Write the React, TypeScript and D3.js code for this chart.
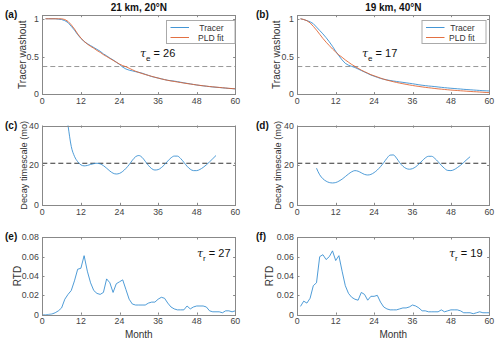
import React, { useEffect, useRef } from 'react';
import * as d3 from 'd3';

// months 1..60 for washout curves
const washMonths = d3.range(1, 61);
const washTracerA = [1.0, 1.0, 1.0, 1.0, 0.995, 0.99, 0.975, 0.95, 0.9, 0.85, 0.79, 0.74, 0.7, 0.67, 0.645, 0.62, 0.595, 0.57, 0.535, 0.51,
  0.48, 0.455, 0.425, 0.395, 0.36, 0.335, 0.32, 0.31, 0.3, 0.29, 0.28, 0.265, 0.25, 0.235, 0.225, 0.215, 0.205, 0.195, 0.185, 0.18,
  0.175, 0.168, 0.16, 0.152, 0.145, 0.138, 0.13, 0.123, 0.117, 0.112, 0.107, 0.102, 0.097, 0.093, 0.09, 0.086, 0.082, 0.078, 0.075, 0.072];
const washFitA = [1.0, 1.0, 1.0, 1.0, 1.0, 1.0, 0.99, 0.965, 0.92, 0.865, 0.8, 0.745, 0.7, 0.665, 0.635, 0.61, 0.58, 0.555, 0.525, 0.5,
  0.475, 0.45, 0.425, 0.4, 0.38, 0.365, 0.345, 0.325, 0.305, 0.29, 0.275, 0.262, 0.25, 0.238, 0.226, 0.215, 0.204, 0.194, 0.185, 0.177,
  0.17, 0.163, 0.156, 0.149, 0.142, 0.136, 0.13, 0.124, 0.118, 0.113, 0.108, 0.103, 0.099, 0.095, 0.091, 0.087, 0.083, 0.079, 0.076, 0.072];
const washTracerB = [1.0, 0.99, 0.975, 0.96, 0.935, 0.89, 0.845, 0.8, 0.75, 0.695, 0.635, 0.57, 0.51, 0.455, 0.41, 0.385, 0.37, 0.355, 0.335, 0.315,
  0.295, 0.275, 0.255, 0.24, 0.225, 0.21, 0.2, 0.19, 0.183, 0.176, 0.17, 0.164, 0.158, 0.152, 0.146, 0.14, 0.133, 0.126, 0.12, 0.115,
  0.11, 0.106, 0.102, 0.097, 0.092, 0.088, 0.084, 0.08, 0.077, 0.073, 0.07, 0.066, 0.063, 0.06, 0.057, 0.054, 0.051, 0.048, 0.046, 0.044];
const washFitB = [1.0, 0.99, 0.975, 0.945, 0.9, 0.85, 0.795, 0.74, 0.69, 0.645, 0.6, 0.56, 0.52, 0.49, 0.455, 0.425, 0.395, 0.37, 0.345, 0.32,
  0.3, 0.28, 0.26, 0.245, 0.23, 0.215, 0.2, 0.188, 0.177, 0.167, 0.157, 0.148, 0.14, 0.132, 0.124, 0.117, 0.11, 0.104, 0.098, 0.092,
  0.087, 0.082, 0.077, 0.072, 0.068, 0.064, 0.06, 0.056, 0.053, 0.05, 0.047, 0.044, 0.041, 0.038, 0.035, 0.033, 0.03, 0.027, 0.024, 0.022];

// decay timescale (mo)
const decayMonthsC = d3.range(7, 55);
const decayC = [52, 40, 29.5, 24.5, 21.8, 20.2, 19.7, 19.9, 20.4, 20.8, 21, 20.7, 19.8, 18.5, 17.1, 16, 15.6, 15.9, 16.9, 18.4,
  20.3, 22.5, 24.3, 24.9, 24, 22, 19.9, 18.3, 17.6, 17.8, 18.8, 20.3, 22.1, 23.7, 24.6, 24.6, 23.4, 21.5, 19.5, 18,
  17.3, 17.3, 17.9, 18.9, 20.2, 21.7, 23.3, 24.9];
const decayMonthsD = d3.range(6, 55);
const decayD = [18.5, 15.2, 13.2, 12, 11.3, 11.1, 11.3, 12, 13, 14.3, 15.6, 16.7, 17.3, 17, 16.2, 15.4, 15.1, 15.4, 16.3, 17.6,
  19.3, 21.3, 23.5, 25.1, 25.2, 23.6, 21.3, 19.5, 18.4, 18, 18.3, 19.2, 20.6, 22.2, 23.7, 24.5, 24.5, 23.4, 21.8, 20,
  18.4, 17.4, 17.3, 17.8, 18.8, 20, 21.4, 22.9, 24.3];

// residence time distribution
const rtdMonthsE = d3.range(0, 61);
const rtdE = [0, 0, 0.0003, 0.0007, 0.002, 0.004, 0.007, 0.016, 0.021, 0.025, 0.035, 0.047, 0.048, 0.061, 0.045, 0.033, 0.025, 0.022, 0.021, 0.023,
  0.037, 0.033, 0.023, 0.032, 0.034, 0.036, 0.026, 0.016, 0.011, 0.01, 0.01, 0.01, 0.01, 0.012, 0.013, 0.013, 0.016, 0.018, 0.017, 0.012,
  0.008, 0.006, 0.005, 0.005, 0.005, 0.009, 0.006, 0.008, 0.009, 0.009, 0.009, 0.008, 0.004, 0.003, 0.003, 0.003, 0.002, 0.004, 0.004, 0.003, 0.004];
const rtdMonthsF = d3.range(1, 61);
const rtdF = [0.0086, 0.014, 0.012, 0.017, 0.03, 0.033, 0.06, 0.062, 0.057, 0.06, 0.066, 0.056, 0.061, 0.045, 0.03, 0.022, 0.018, 0.016, 0.015, 0.023,
  0.021, 0.015, 0.019, 0.019, 0.02, 0.013, 0.008, 0.006, 0.005, 0.005, 0.005, 0.006, 0.007, 0.007, 0.008, 0.01, 0.009, 0.007, 0.004, 0.004,
  0.003, 0.003, 0.003, 0.003, 0.005, 0.003, 0.004, 0.005, 0.005, 0.005, 0.004, 0.002, 0.002, 0.002, 0.001, 0.002, 0.003, 0.002, 0.002, 0.002];

const xTicks = [0, 12, 24, 36, 48, 60];
const washTicks = [0, 0.5, 1];
const decayTicks = [0, 20, 40];
const rtdTicks = [0, 0.02, 0.04, 0.06, 0.08];
const titles = ['21 km, 20°N', '19 km, 40°N'];
const legendNames = ['Tracer', 'PLD fit'];
const tauE = [26, 17];
const tauR = [27, 19];
const decayRef = 21;

const BLUE = '#2f8ad0';
const RED = '#e0602c';
const FONT = '"Liberation Sans", Arial, Helvetica, sans-serif';

export default function App() {
  const ref = useRef(null);

  useEffect(() => {
    const svg = d3.select(ref.current);
    svg.selectAll('*').remove();
    const cols = [{ x0: 42.3, x1: 235.3 }, { x0: 297.3, x1: 489.3 }];
    const rows = [{ y0: 15, y1: 94.3 }, { y0: 125.5, y1: 205 }, { y0: 237.3, y1: 314.7 }];
    // baseline x of the rotated y labels, and their size per row
    const ylabX = [[26, 280], [26.5, 280.5], [20.5, 272.5]];
    const ylabSize = [10, 9.2, 10];
    let clipId = 0;

    function panel(c, r, opt) {
      const { x0, x1 } = cols[c];
      const { y0, y1 } = rows[r];
      const x = d3.scaleLinear().domain([0, 60]).range([x0, x1]);
      const y = d3.scaleLinear().domain(opt.yDomain).range([y1, y0]);
      const g = svg.append('g');
      const id = 'clip' + (clipId++);
      g.append('clipPath').attr('id', id).append('rect')
        .attr('x', x0).attr('y', y0).attr('width', x1 - x0).attr('height', y1 - y0);

      // ticks (inward, mirrored)
      const tk = 2.2;
      xTicks.forEach(t => {
        const px = Math.round(x(t)) + 0.5;
        g.append('line').attr('x1', px).attr('x2', px).attr('y1', y1).attr('y2', y1 - tk).attr('stroke', '#888');
        g.append('line').attr('x1', px).attr('x2', px).attr('y1', y0).attr('y2', y0 + tk).attr('stroke', '#888');
        g.append('text').attr('x', x(t)).attr('y', y1 + 9.5).attr('text-anchor', 'middle')
          .attr('font-size', 8.8).attr('fill', '#444').text(t);
      });
      opt.yTicks.forEach(t => {
        const py = Math.round(y(t)) + 0.5;
        g.append('line').attr('x1', x0).attr('x2', x0 + tk).attr('y1', py).attr('y2', py).attr('stroke', '#888');
        g.append('line').attr('x1', x1).attr('x2', x1 - tk).attr('y1', py).attr('y2', py).attr('stroke', '#888');
        g.append('text').attr('x', x0 - 3.5).attr('y', y(t) + 3).attr('text-anchor', 'end')
          .attr('font-size', 8.8).attr('fill', '#444').text(opt.fmt(t));
      });

      if (opt.ref != null) {
        g.append('line').attr('x1', x0).attr('x2', x1).attr('y1', y(opt.ref)).attr('y2', y(opt.ref))
          .attr('stroke', opt.refColor).attr('stroke-width', 1).attr('stroke-dasharray', '5,3');
      }

      const line = d3.line().x(d => x(d[0])).y(d => y(d[1]));
      if (opt.smooth) line.curve(d3.curveMonotoneX);
      opt.series.forEach(s => {
        g.append('path').attr('d', line(d3.zip(s.xs, s.ys)))
          .attr('fill', 'none').attr('stroke', s.color).attr('stroke-width', 0.85)
          .attr('clip-path', `url(#${id})`);
      });

      g.append('rect').attr('x', Math.round(x0) + 0.5).attr('y', Math.round(y0) + 0.5)
        .attr('width', Math.round(x1) - Math.round(x0)).attr('height', Math.round(y1) - Math.round(y0))
        .attr('fill', 'none').attr('stroke', '#888');

      g.append('text').attr('transform', `translate(${ylabX[r][c]},${(y0 + y1) / 2}) rotate(-90)`)
        .attr('text-anchor', 'middle')
        .attr('font-size', ylabSize[r]).attr('fill', '#333').text(opt.ylabel);

      g.append('text').attr('x', c === 0 ? 5 : 256).attr('y', y0 + 3)
        .attr('font-size', 10).attr('font-weight', 'bold').attr('fill', '#111').text(opt.tag);

      if (r === 2) {
        g.append('text').attr('x', (x0 + x1) / 2).attr('y', 338).attr('text-anchor', 'middle')
          .attr('font-size', 10).attr('fill', '#333').text('Month');
      }
      return { g, x, y, x0, x1, y0, y1 };
    }

    function tauLabel(g, px, py, sub, val) {
      const t = g.append('text').attr('x', px).attr('y', py).attr('font-size', 11).attr('fill', '#111');
      t.append('tspan').attr('font-style', 'italic').attr('font-family', '"DejaVu Serif", serif').text('τ');
      t.append('tspan').attr('font-size', 8).attr('dy', 3.5).text(sub);
      t.append('tspan').attr('dy', -3.5).text(' = ' + val);
    }

    [0, 1].forEach(c => {
      const tracer = c === 0 ? washTracerA : washTracerB;
      const fit = c === 0 ? washFitA : washFitB;
      const p = panel(c, 0, {
        yDomain: [0, 1.05], yTicks: washTicks, fmt: d => String(d), ylabel: 'Tracer washout',
        tag: c === 0 ? '(a)' : '(b)', ref: Math.exp(-1), refColor: '#999',
        series: [{ xs: washMonths, ys: tracer, color: BLUE }, { xs: washMonths, ys: fit, color: RED }]
      });
      p.g.append('text').attr('x', (p.x0 + p.x1) / 2).attr('y', 11).attr('text-anchor', 'middle')
        .attr('font-size', 10).attr('font-weight', 'bold').attr('fill', '#111').text(titles[c]);
      tauLabel(p.g, c === 0 ? 140 : 362, 57, 'e', tauE[c]);

      // legend
      const lx0 = c === 0 ? 166 : 421.5, lx1 = c === 0 ? 234.5 : 485.5;
      const lg = p.g.append('g');
      lg.append('rect').attr('x', lx0 + 0.5).attr('y', 20.5).attr('width', lx1 - lx0).attr('height', 23)
        .attr('fill', '#fff').attr('stroke', '#aaa');
      legendNames.forEach((n, i) => {
        const ly = 27.5 + i * 10;
        lg.append('line').attr('x1', lx0 + 4.5).attr('x2', lx0 + 23).attr('y1', ly).attr('y2', ly)
          .attr('stroke', i === 0 ? BLUE : RED).attr('stroke-width', 0.9);
        lg.append('text').attr('x', lx1 - 11).attr('y', ly + 3).attr('text-anchor', 'end')
          .attr('font-size', 8.5).attr('fill', '#333').text(n);
      });
    });

    [0, 1].forEach(c => {
      panel(c, 1, {
        yDomain: [0, 40], yTicks: decayTicks, fmt: d => String(d), ylabel: 'Decay timescale (mo)',
        tag: c === 0 ? '(c)' : '(d)', ref: decayRef, refColor: '#333', smooth: true,
        series: [{ xs: c === 0 ? decayMonthsC : decayMonthsD, ys: c === 0 ? decayC : decayD, color: BLUE }]
      });
    });

    [0, 1].forEach(c => {
      const p = panel(c, 2, {
        yDomain: [0, 0.08], yTicks: rtdTicks, fmt: d => d === 0 ? '0' : d3.format('.2f')(d), ylabel: 'RTD',
        tag: c === 0 ? '(e)' : '(f)', ref: null,
        series: [{ xs: c === 0 ? rtdMonthsE : rtdMonthsF, ys: c === 0 ? rtdE : rtdF, color: BLUE }]
      });
      tauLabel(p.g, c === 0 ? 197 : 449, 257, 'r', tauR[c]);
    });
  }, []);

  return (
    <svg ref={ref} width={500} height={344}
      style={{ position: 'absolute', left: 0, top: 0, background: '#fff', fontFamily: FONT }} />
  );
}
